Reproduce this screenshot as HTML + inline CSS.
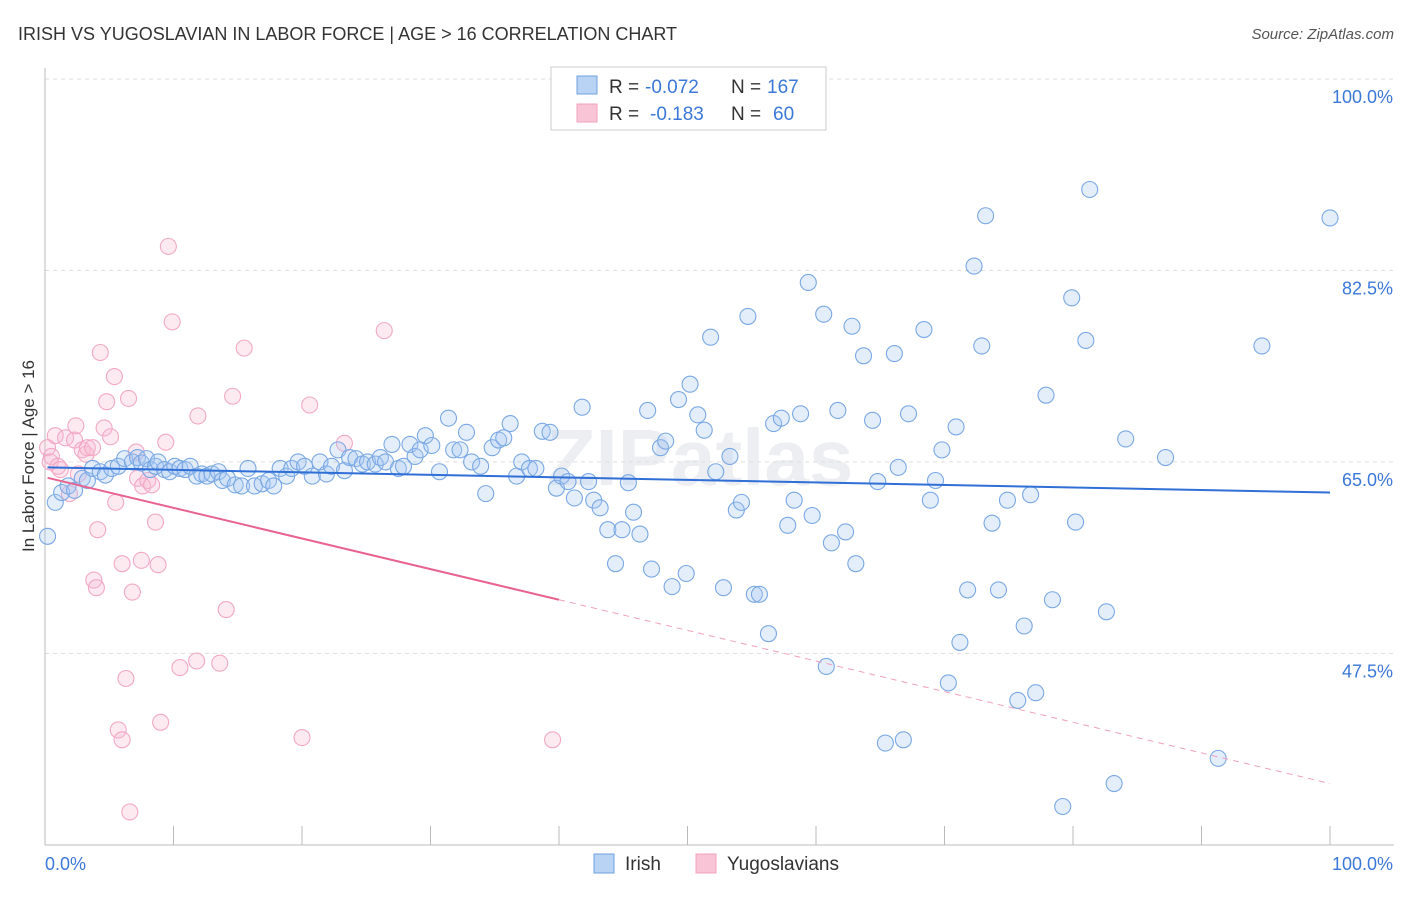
<!DOCTYPE html>
<html><head><meta charset="utf-8"><style>
body{margin:0;background:#fff;font-family:"Liberation Sans",sans-serif;}
</style></head><body>
<svg width="1406" height="892" xmlns="http://www.w3.org/2000/svg" font-family="Liberation Sans, sans-serif">
<text x="18" y="40" font-size="18" fill="#333">IRISH VS YUGOSLAVIAN IN LABOR FORCE | AGE &gt; 16 CORRELATION CHART</text>
<text x="1394" y="39" font-size="15" fill="#555" text-anchor="end" font-style="italic">Source: ZipAtlas.com</text>
<text x="700" y="485" font-size="80" fill="#eceef2" text-anchor="middle" font-weight="bold">ZIPatlas</text>
<g id="grid"></g>
<g id="axes"></g>
<g id="pts"></g>
<g id="trend"></g>
<text transform="translate(34,456) rotate(-90)" font-size="17" fill="#333" text-anchor="middle">In Labor Force | Age &gt; 16</text>
<g>
<rect x="551" y="67" width="275" height="63" fill="#fff" stroke="#ccc"/>
<rect x="577" y="76" width="20" height="18" fill="#b9d3f5" stroke="#6fa0e0"/>
<rect x="577" y="104" width="20" height="18" fill="#f9c5d6" stroke="#f0a0c0"/>
<text x="609" y="93" font-size="19" fill="#333">R =</text>
<text x="645" y="93" font-size="19" fill="#3b78d8">-0.072</text>
<text x="731" y="93" font-size="19" fill="#333">N =</text>
<text x="767" y="93" font-size="19" fill="#3b78d8">167</text>
<text x="609" y="120" font-size="19" fill="#333">R =</text>
<text x="650" y="120" font-size="19" fill="#3b78d8">-0.183</text>
<text x="731" y="120" font-size="19" fill="#333">N =</text>
<text x="773" y="120" font-size="19" fill="#3b78d8">60</text>
</g>
<g>
<rect x="594" y="854" width="20" height="19" fill="#b9d3f5" stroke="#6fa0e0"/>
<text x="625" y="870" font-size="19" fill="#333">Irish</text>
<rect x="696" y="854" width="20" height="19" fill="#f9c5d6" stroke="#f0a0c0"/>
<text x="727" y="870" font-size="19" fill="#333">Yugoslavians</text>
</g>
</svg>
<script>
const yTicks=[100,82.5,65,47.5];
const yTickLabels=["100.0%","82.5%","65.0%","47.5%"];
const xTickLabels=["0.0%","100.0%"];
const irishX=[0.2,0.8,1.3,1.8,2.3,2.9,3.3,3.7,4.3,4.7,5.2,5.7,6.2,6.8,7.2,7.5,7.9,8.2,8.6,8.8,9.3,9.7,10.1,10.5,10.9,11.3,11.8,12.2,12.6,13.0,13.5,13.8,14.2,14.8,15.3,15.8,16.3,16.9,17.4,17.8,18.3,18.8,19.2,19.7,20.2,20.8,21.4,21.9,22.3,22.8,23.3,23.7,24.2,24.7,25.1,25.7,26.1,26.5,27.0,27.5,27.9,28.4,28.8,29.2,29.6,30.1,30.7,31.4,31.8,32.3,32.8,33.2,33.9,34.3,34.8,35.3,35.7,36.2,36.7,37.1,37.7,38.2,38.7,39.3,39.8,40.2,40.7,41.2,41.8,42.3,42.7,43.2,43.8,44.4,44.9,45.4,45.8,46.3,46.9,47.2,47.9,48.3,48.8,49.3,49.9,50.2,50.8,51.3,51.8,52.2,52.8,53.3,53.8,54.2,54.7,55.2,55.6,56.3,56.7,57.3,57.8,58.3,58.8,59.4,59.7,60.6,60.8,61.2,61.7,62.3,62.8,63.1,63.7,64.4,64.8,65.4,66.1,66.4,66.8,67.2,68.4,68.9,69.3,69.8,70.3,70.9,71.2,71.8,72.3,72.9,73.2,73.7,74.2,74.9,75.7,76.2,76.7,77.1,77.9,78.4,79.2,79.9,80.2,81.0,81.3,82.6,83.2,84.1,87.2,91.3,94.7,100];
const irishY=[58.2,61.3,62.2,62.8,62.4,63.5,63.3,64.4,64.1,63.8,64.4,64.6,65.3,65.0,65.4,64.9,65.3,64.3,64.6,65.0,64.3,64.1,64.6,64.4,64.3,64.6,63.7,63.9,63.7,63.9,64.1,63.3,63.5,62.9,62.8,64.4,62.8,63.0,63.3,62.8,64.4,63.7,64.4,65.0,64.6,63.7,65.0,63.9,64.6,66.1,64.2,65.4,65.3,64.8,65.0,64.8,65.4,65.0,66.6,64.4,64.6,66.6,65.5,66.1,67.4,66.5,64.1,69.0,66.1,66.1,67.7,65.0,64.6,62.1,66.3,67.0,67.2,68.5,63.7,65.0,64.4,64.4,67.8,67.7,62.6,63.7,63.2,61.7,70.0,63.2,61.5,60.8,58.8,55.7,58.8,63.1,60.4,58.4,69.7,55.2,66.3,66.9,53.6,70.7,54.8,72.1,69.3,67.9,76.4,64.1,53.5,65.5,60.6,61.3,78.3,52.9,52.9,49.3,68.5,69.0,59.2,61.5,69.4,81.4,60.1,78.5,46.3,57.6,69.7,58.6,77.4,55.7,74.7,68.8,63.2,39.3,74.9,64.5,39.6,69.4,77.1,61.5,63.3,66.1,44.8,68.2,48.5,53.3,82.9,75.6,87.5,59.4,53.3,61.5,43.2,50.0,62.0,43.9,71.1,52.4,33.5,80.0,59.5,76.1,89.9,51.3,35.6,67.1,65.4,37.9,75.6,87.3];
const yugoX=[0.2,0.5,0.4,0.8,1.0,1.2,1.6,1.9,2.3,2.4,2.6,2.9,3.2,3.3,3.7,4.1,4.3,4.6,4.8,5.1,5.4,5.5,5.7,6.0,6.3,6.5,6.6,6.8,6.0,7.1,7.2,7.6,7.5,8.0,8.3,8.6,8.8,9.0,9.4,9.6,9.9,10.5,11.8,11.9,13.6,14.1,14.6,15.5,20.0,20.6,23.3,26.4,39.5,3.8,4.0];
const yugoY=[66.3,65.5,65.0,67.4,64.6,64.3,67.2,62.1,67.0,68.3,63.9,66.1,65.7,66.3,66.3,58.8,75.0,68.1,70.5,67.3,72.8,61.3,40.5,39.6,45.2,70.8,33.0,53.1,55.7,65.9,63.5,62.8,56.0,63.3,62.9,59.5,55.6,41.2,66.8,84.7,77.8,46.2,46.8,69.2,46.6,51.5,71.0,75.4,39.8,70.2,66.7,77.0,39.6,54.2,53.5];
const irishTrend=[64.5,62.2];
const yugoTrend=[63.6,35.6];
const yugoSolidEnd=40;

const NS="http://www.w3.org/2000/svg";
const sx=v=>45+v*12.85;
const sy=v=>79+(100-v)*10.94;
function mk(tag,attrs,parent){const e=document.createElementNS(NS,tag);for(const k in attrs)e.setAttribute(k,attrs[k]);document.getElementById(parent).appendChild(e);return e;}
yTicks.forEach((t,i)=>{
  const g=mk('line',{x1:45,x2:1394,y1:sy(t),y2:sy(t),stroke:'#ddd','stroke-dasharray':'4,4'},'grid');
  
  
  const l=mk('text',{x:1393,y:sy(t)+24,'font-size':18,fill:'#3b78d8','text-anchor':'end'},'axes');
  l.textContent=yTickLabels[i];
  
  
});
const ax=mk('line',{x1:45,x2:1394,y1:845,y2:845,stroke:'#bbb'},'axes');


const ay=mk('line',{x1:45,x2:45,y1:68,y2:845,stroke:'#bbb'},'axes');


for(let i=0;i<=10;i++){
  const t=mk('line',{x1:sx(i*10),x2:sx(i*10),y1:826,y2:845,stroke:'#bbb'},'axes');
  
  
}
const xl0=mk('text',{x:45,y:870,'font-size':18,fill:'#3b78d8'},'axes');xl0.textContent=xTickLabels[0];


const xl1=mk('text',{x:1393,y:870,'font-size':18,fill:'#3b78d8','text-anchor':'end'},'axes');xl1.textContent=xTickLabels[1];


yugoX.forEach((x,i)=>{
  const c=mk('circle',{cx:sx(x),cy:sy(yugoY[i]),r:8,fill:'rgba(248,185,208,0.3)',stroke:'#f2a8c4','stroke-width':1.1},'pts');
  
  
});
irishX.forEach((x,i)=>{
  const c=mk('circle',{cx:sx(x),cy:sy(irishY[i]),r:8,fill:'rgba(165,200,242,0.3)',stroke:'#7aa8e4','stroke-width':1.1},'pts');
  
  
});
const it=mk('line',{x1:sx(0.2),y1:sy(irishTrend[0]),x2:sx(100),y2:sy(irishTrend[1]),stroke:'#2f6fd6','stroke-width':2},'trend');


const yAt=x=>yugoTrend[0]+(yugoTrend[1]-yugoTrend[0])*x/100;
const ys=mk('line',{x1:sx(0.2),y1:sy(yAt(0.2)),x2:sx(yugoSolidEnd),y2:sy(yAt(yugoSolidEnd)),stroke:'#e8638f','stroke-width':2},'trend');


const yd=mk('line',{x1:sx(yugoSolidEnd),y1:sy(yAt(yugoSolidEnd)),x2:sx(100),y2:sy(yAt(100)),stroke:'#f0a0c0','stroke-width':1,'stroke-dasharray':'6,5'},'trend');


</script>
</body></html>
